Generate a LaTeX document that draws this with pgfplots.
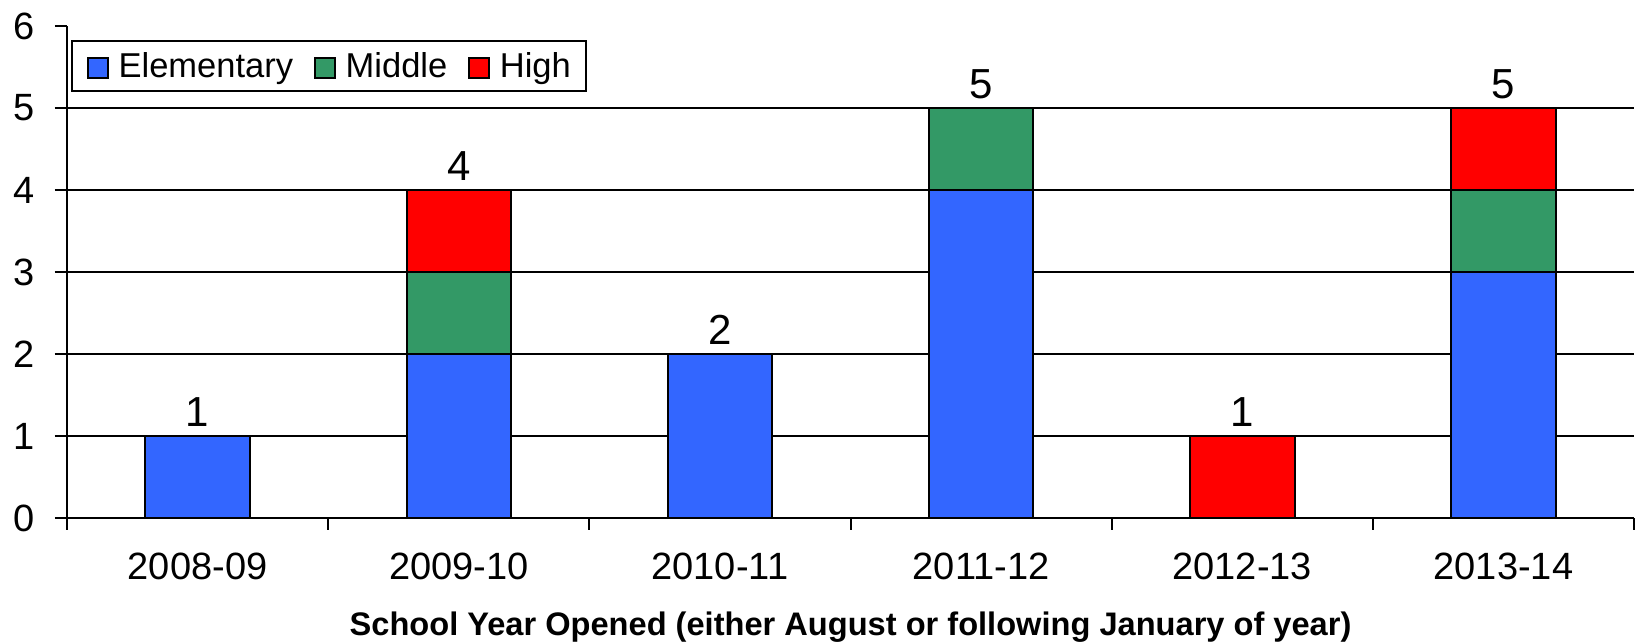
\documentclass[border=0pt]{standalone}
\usepackage{pgfplots}
\pgfplotsset{compat=1.18}
\usepackage{fontspec}
\setmainfont{Liberation Sans}
\definecolor{elem}{RGB}{51,102,255}
\definecolor{mid}{RGB}{51,153,102}
\definecolor{hig}{RGB}{255,0,0}
\pgfplotsset{common/.style={
  scale only axis, width=783.5pt, height=246pt,
  xmin=-0.5, xmax=5.5, ymin=0, ymax=6,
  /pgf/number format/assume math mode=true}}
\begin{document}
\begin{tikzpicture}
\begin{axis}[
  common,
  ybar stacked, bar width=0.4,
  axis lines*=left,
  axis line style={black, line width=1pt},
  xtick={0,...,5},
  xticklabels={2008-09,2009-10,2010-11,2011-12,2012-13,2013-14},
  major x tick style={draw=none},
  minor xtick={-0.5,0.5,...,5.5},
  minor x tick style={black, line width=1pt},
  minor tick length=6pt,
  tick align=outside,
  major tick length=6pt,
  ytick={0,...,6},
  major y tick style={black, line width=1pt},
  extra y ticks={1,2,3,4,5},
  extra y tick labels={},
  extra y tick style={ymajorgrids=true},
  major grid style={black, line width=1pt},
  ticklabel style={font=\fontsize{19}{22}\selectfont},
  xticklabel style={anchor=base, yshift=-25pt},
  yticklabel style={anchor=east, inner sep=0pt, xshift=-10pt},
  xlabel={School Year Opened (either August or following January of year)},
  xlabel style={font=\bfseries\fontsize{16.3}{19}\selectfont, at={(axis description cs:0.5,0)}, anchor=base, yshift=-59pt},
  legend style={at={(0.00255,0.9715)}, anchor=north west, legend columns=-1, draw=black, line width=1pt,
    font=\fontsize{17.25}{20}\selectfont, inner xsep=7.5pt, inner ysep=5.5pt,
    nodes={inner sep=0pt},
    /tikz/every odd column/.append style={column sep=5pt},
    /tikz/every even column/.append style={column sep=10.5pt}},
  legend image code/.code={\draw[#1, draw=black, line width=0.8pt] (0pt,-6pt) rectangle (10pt,4pt);},
  every axis plot/.append style={draw=black, line width=1pt},
]
\addplot[fill=elem] coordinates {(0,1) (1,2) (2,2) (3,4) (4,0) (5,3)};
\addplot[fill=mid] coordinates {(0,0) (1,1) (2,0) (3,1) (4,0) (5,1)};
\addplot[fill=hig] coordinates {(0,0) (1,1) (2,0) (3,0) (4,1) (5,1)};
\legend{Elementary, Middle, High}
\end{axis}
\begin{axis}[common, hide axis]
\addplot[only marks, mark=none, point meta=explicit, nodes near coords,
  nodes near coords align=above,
  every node near coord/.append style={font=\fontsize{21}{24}\selectfont, anchor=south, inner sep=0pt, yshift=4.5pt, text=black}]
  coordinates {(0,1) [1] (1,4) [4] (2,2) [2] (3,5) [5] (4,1) [1] (5,5) [5]};
\end{axis}
\pgfresetboundingbox
\path (current axis.south west) ++(-33.5pt,-62.5pt) coordinate (bbsw);
\path (current axis.north east) ++(0.5pt,13pt) coordinate (bbne);
\path[use as bounding box] (bbsw) rectangle (bbne);
\end{tikzpicture}
\end{document}
